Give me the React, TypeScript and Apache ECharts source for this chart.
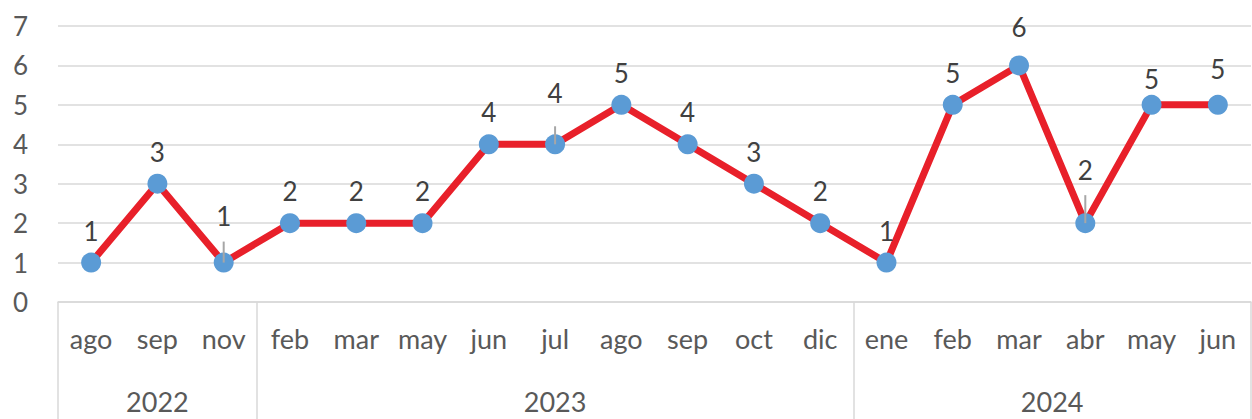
import React, { useEffect, useRef } from "react";
import * as echarts from "echarts";

const months = ["ago", "sep", "nov", "feb", "mar", "may", "jun", "jul", "ago", "sep", "oct", "dic", "ene", "feb", "mar", "abr", "may", "jun"];
const values = [1, 3, 1, 2, 2, 2, 4, 4, 5, 4, 3, 2, 1, 5, 6, 2, 5, 5];
const years = ["2022", "2023", "2024"];
const yearCounts = [3, 9, 6];
// data labels that were dragged away from their point (with a leader line)
const leaderIdx = [2, 7, 15];
const leaderLen = [21, 18, 28];
const labelLift = [0, 0, 15, 0, 0, 0, 0, 19, 0, 0, 0, 0, 0, 0, 6, 21, -6, 4];
const yTicks = [0, 1, 2, 3, 4, 5, 6, 7];

const FONT = "Lato";
const GRAY = "#d9d9d9";

export default function App() {
  const ref = useRef<HTMLDivElement>(null);
  useEffect(() => {
    if (!ref.current) return;
    const chart = echarts.init(ref.current, undefined, { renderer: "svg" });

    // half-slot axis for year groups: 2 slots per month, boundaryGap false
    const total = months.length;
    const slotLabels: string[] = new Array(total * 2 + 1).fill("");
    const boundaries = new Set<number>([0]);
    let start = 0;
    years.forEach((y, i) => {
      slotLabels[start * 2 + yearCounts[i]] = y;
      start += yearCounts[i];
      boundaries.add(start * 2);
    });

    chart.setOption({
      animation: false,
      grid: { left: 58, right: 1, top: 26, bottom: 117, containLabel: false },
      xAxis: [
        {
          type: "category",
          data: months,
          boundaryGap: true,
          axisLine: { show: true, lineStyle: { color: GRAY, width: 1.5 } },
          axisTick: { show: false },
          axisLabel: { interval: 0, margin: 23, fontFamily: FONT, fontSize: 27, color: "#595959" },
        },
        {
          type: "category",
          data: slotLabels,
          boundaryGap: false,
          position: "bottom",
          axisLine: { show: false },
          axisTick: {
            show: true,
            length: 120,
            interval: (idx: number) => boundaries.has(idx),
            lineStyle: { color: GRAY, width: 1.5 },
          },
          axisLabel: {
            interval: (idx: number, v: string) => v !== "",
            margin: 86,
            fontFamily: FONT,
            fontSize: 27,
            color: "#595959",
          },
          splitLine: { show: false },
        },
      ],
      yAxis: {
        type: "value",
        min: yTicks[0],
        max: yTicks[yTicks.length - 1],
        interval: 1,
        axisLine: { show: false },
        axisTick: { show: false },
        axisLabel: { margin: 30, fontFamily: FONT, fontSize: 26, color: "#595959" },
        splitLine: { lineStyle: { color: GRAY, width: 1.5 } },
      },
      series: [
        {
          type: "line",
          xAxisIndex: 0,
          z: 2,
          data: values.map((v, i) => ({
            value: v,
            label: { offset: [0, -labelLift[i]] },
          })),
          symbol: "circle",
          symbolSize: 20,
          lineStyle: { color: "#e8202a", width: 7 },
          itemStyle: { color: "#5b9bd5" },
          label: {
            show: true,
            position: "top",
            distance: 9,
            fontFamily: FONT,
            fontSize: 26,
            color: "#404040",
          },
        },
        {
          type: "custom",
          xAxisIndex: 0,
          z: 10,
          data: leaderIdx.map((i, k) => [i, values[i], leaderLen[k]]),
          renderItem: (params: any, api: any) => {
            const p = api.coord([api.value(0), api.value(1)]);
            return {
              type: "line",
              z2: 100,
              shape: { x1: p[0], y1: p[1], x2: p[0], y2: p[1] - api.value(2) },
              style: { stroke: "#a6a6a6", lineWidth: 2 },
            };
          },
        },
      ],
    });
    return () => chart.dispose();
  }, []);
  return (
    <div
      ref={ref}
      style={{ position: "fixed", left: 0, top: 0, width: 1252, height: 419, background: "#fff" }}
    />
  );
}
